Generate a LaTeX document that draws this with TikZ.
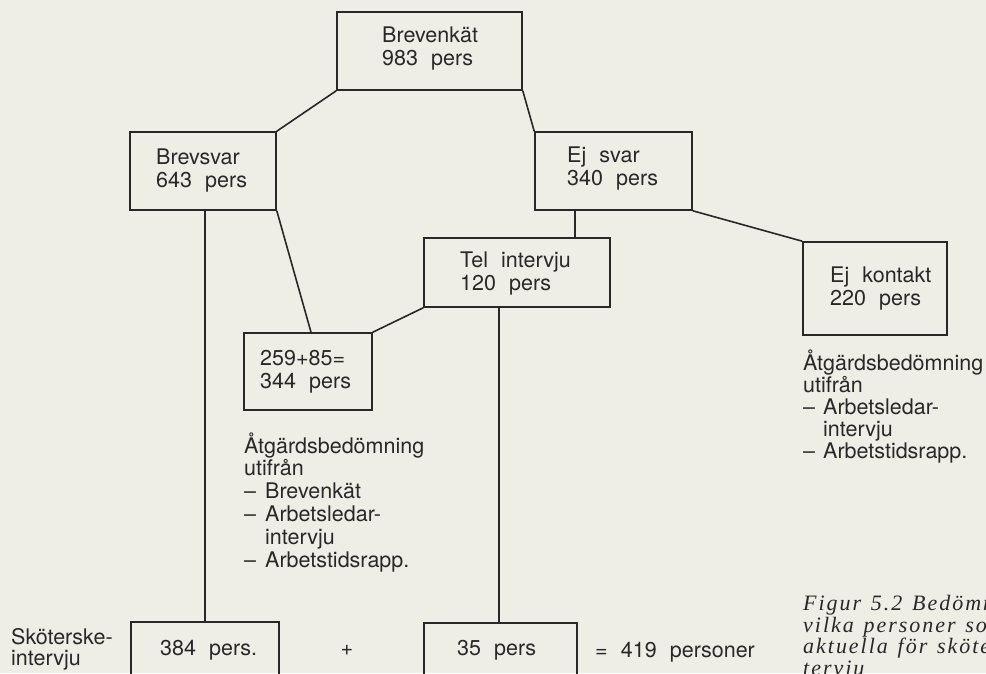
\documentclass[tikz,border=0pt]{standalone}
\usepackage{fontspec}
\setmainfont[WordSpace=2.2]{TeX Gyre Heros}
\newfontfamily\capfont[WordSpace=1.3,LetterSpace=9]{Liberation Serif}
\definecolor{bg}{RGB}{238,237,230}
\definecolor{ink}{RGB}{40,40,40}
\begin{document}
\begin{tikzpicture}[x=1pt,y=-1pt,
  box/.style={draw=ink, line width=1.6pt, inner sep=0pt, rectangle},
  conn/.style={draw=ink, line width=1.6pt},
  txt/.style={text=ink, inner sep=0pt, anchor=base west, align=left,
              font=\fontsize{21.5}{22.5}\selectfont},
  captxt/.style={text=ink, inner sep=0pt, anchor=base west, align=left,
              font=\capfont\itshape\fontsize{22}{21.5}\selectfont}]
\fill[bg] (0,0) rectangle (986,673);
\useasboundingbox (0,0) rectangle (986,673);
\clip (0,0) rectangle (986,673);

% boxes
\node[box, minimum width=185pt, minimum height=78pt] (brevenkat) at (429.5,51) {};
\node[box, minimum width=146pt, minimum height=78pt] (brevsvar) at (203,171) {};
\node[box, minimum width=157pt, minimum height=78pt] (ejsvar) at (613.5,171) {};
\node[box, minimum width=186pt, minimum height=69pt] (tel) at (517,272.5) {};
\node[box, minimum width=144pt, minimum height=93pt] (ejkontakt) at (875,288.5) {};
\node[box, minimum width=128pt, minimum height=77pt] (sum) at (308,371.5) {};
\node[box, minimum width=148pt, minimum height=68pt] (b384) at (205,656) {};
\node[box, minimum width=153pt, minimum height=67pt] (b35) at (500.5,656.5) {};

% connectors
\draw[conn] (brevenkat.south west) -- (brevsvar.north east);
\draw[conn] (brevenkat.south east) -- (ejsvar.north west);
\draw[conn] (brevsvar.south -| b384.north) -- (b384.north);
\draw[conn] (brevsvar.south east) -- ([xshift=3pt]sum.north);
\draw[conn] (tel.south west) -- (sum.north east);
\draw[conn] ([xshift=-38.5pt]ejsvar.south) -- ([xshift=-38.5pt]ejsvar.south |- tel.north);
\draw[conn] (ejsvar.south east) -- (ejkontakt.north west);
\draw[conn] ([xshift=-1.5pt]b35.north |- tel.south) -- ([xshift=-1.5pt]b35.north);

% texts (anchor = baseline of the last line)
\node[txt] (t1) at (382,65) {Brevenkät\\983 pers};
\node[txt] (t2) at (156,187) {Brevsvar\\643 pers};
\node[txt] (t3) at (567,185) {Ej svar\\340 pers};
\node[txt] (t4) at (460,290) {Tel intervju\\120 pers};
\node[txt] (t5) at (830,305) {Ej kontakt\\220 pers};
\node[txt] (t6) at (260,388) {259+85=\\344 pers};
\node[txt, font=\fontsize{21.5}{22.8}\selectfont] (list1) at (244,567)
  {Åtgärdsbedömning\\utifrån\\\makebox[21pt][l]{–}Brevenkät\\\makebox[21pt][l]{–}Arbetsledar-\\\makebox[21pt][l]{}intervju\\\makebox[21pt][l]{–}Arbetstidsrapp.};
\node[txt, font=\fontsize{21.5}{21.8}\selectfont] (list2) at (803,458)
  {Åtgärdsbedömning\\utifrån\\\makebox[20pt][l]{–}Arbetsledar-\\\makebox[20pt][l]{}intervju\\\makebox[20pt][l]{–}Arbetstidsrapp.};
\node[txt, font=\fontsize{21.5}{21}\selectfont] (skot) at (11,665) {Sköterske-\\intervju};
\node[txt] (t384) at (160,655) {384 pers.};
\node[txt, anchor=base] (plus) at (347,655) {+};
\node[txt] (t35) at (457,655) {35 pers};
\node[txt] (eq) at (595,657) {= 419 personer};
\node[captxt] (caption) at (803,675) {Figur 5.2 Bedömning av\\vilka personer som är\\aktuella för sköterskein-\\tervju};
\end{tikzpicture}
\end{document}
